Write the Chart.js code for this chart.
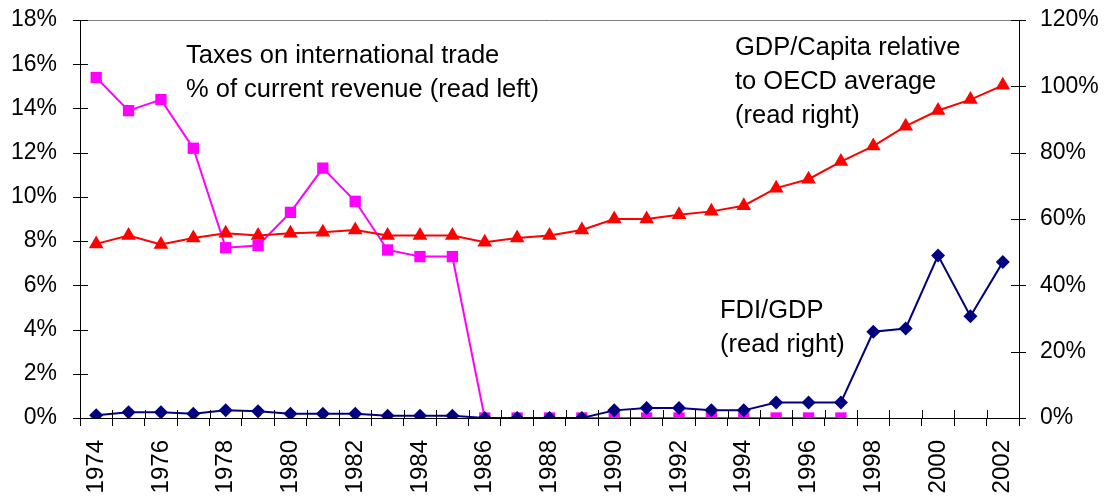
<!DOCTYPE html>
<html>
<head>
<meta charset="utf-8">
<script src="https://cdn.jsdelivr.net/npm/chart.js@4/dist/chart.umd.min.js"></script>
<style>
  html, body { margin: 0; padding: 0; background: #fff; }
  #wrap { width: 1112px; height: 502px; }
</style>
</head>
<body>
<div id="wrap"><canvas id="graph1"></canvas></div>
<script>
var years = ['1974','1975','1976','1977','1978','1979','1980','1981','1982','1983','1984','1985','1986','1987',
  '1988','1989','1990','1991','1992','1993','1994','1995','1996','1997','1998','1999','2000','2001','2002'];

// % of current revenue, left axis
var taxes = [15.4, 13.9, 14.4, 12.2, 7.7, 7.8, 9.3, 11.3, 9.8, 7.6, 7.3, 7.3, 0, 0,
  0, 0, 0, 0, 0, 0, 0, 0, 0, 0, null, null, null, null, null];

// right axis
var gdpCapita = [52.5, 55, 52.3, 54.3, 55.7, 55, 55.7, 56, 56.7, 55, 55, 55, 53, 54.3,
  55, 56.7, 60, 60, 61.3, 62.3, 64, 69.3, 72, 77.3, 82, 88, 92.7, 96, 100.3];

var fdiGdp = [0.8, 1.7, 1.7, 1.3, 2.3, 2, 1.3, 1.3, 1.3, 0.7, 0.7, 0.7, 0, 0,
  0, 0, 2.3, 3, 3, 2.3, 2.3, 4.7, 4.7, 4.7, 26, 27, 49, 30.7, 47];

var notes = [
  { lines: ['Taxes on international trade', '% of current revenue (read left)'], x: 186, y: 56 },
  { lines: ['GDP/Capita relative', 'to OECD average', '(read right)'], x: 735, y: 48 },
  { lines: ['FDI/GDP', '(read right)'], x: 720, y: 311 }
];

var FONT = 'Liberation Sans, Arial, sans-serif';
var TICK = 8;

// axis ticks that cross the axis line, plus the grey top border and the notes
var chartExtras = {
  id: 'chartExtras',
  afterDraw: function(chart) {
    var ctx = chart.ctx;
    var a = chart.chartArea;
    ctx.save();
    ctx.strokeStyle = '#808080';
    ctx.lineWidth = 1;
    ctx.beginPath();
    ctx.moveTo(a.left, a.top + 0.5);
    ctx.lineTo(a.right, a.top + 0.5);
    ctx.stroke();

    ctx.strokeStyle = '#000';
    ctx.beginPath();
    var yl = chart.scales.y, yr = chart.scales.y1;
    yl.ticks.forEach(function(t) {
      var py = Math.round(yl.getPixelForValue(t.value)) + 0.5;
      ctx.moveTo(a.left - 7, py); ctx.lineTo(a.left + TICK, py);
    });
    yr.ticks.forEach(function(t) {
      var py = Math.round(yr.getPixelForValue(t.value)) + 0.5;
      ctx.moveTo(a.right + 7, py); ctx.lineTo(a.right - TICK, py);
    });
    var step = (a.right - a.left) / years.length;
    for (var i = 0; i <= years.length; i++) {
      var px = Math.round(a.left + i * step) + 0.5;
      ctx.moveTo(px, a.bottom); ctx.lineTo(px, a.bottom - TICK);
    }
    ctx.stroke();

    ctx.fillStyle = '#000';
    ctx.font = '25.5px ' + FONT;
    ctx.textAlign = 'left';
    ctx.textBaseline = 'middle';
    notes.forEach(function(n) {
      n.lines.forEach(function(s, k) {
        ctx.fillText(s, n.x, n.y + k * 34);
      });
    });
    ctx.restore();
  }
};

var ctx = document.getElementById('graph1').getContext('2d');

var data = {
  labels: years,
  datasets: [{
    label: 'Taxes on international trade',
    data: taxes,
    yAxisID: 'y',
    borderColor: '#FF00FF',
    backgroundColor: '#FF00FF',
    borderWidth: 2,
    pointStyle: 'rect',
    pointRadius: 8,
    pointBorderWidth: 0,
    order: 2
  }, {
    label: 'GDP/Capita relative to OECD average',
    data: gdpCapita,
    yAxisID: 'y1',
    borderColor: '#FF0000',
    backgroundColor: '#FF0000',
    borderWidth: 2,
    pointStyle: 'triangle',
    pointRadius: 8.5,
    pointBorderWidth: 0,
    order: 1
  }, {
    label: 'FDI/GDP',
    data: fdiGdp,
    yAxisID: 'y1',
    borderColor: '#000080',
    backgroundColor: '#000080',
    borderWidth: 2,
    pointStyle: 'rectRot',
    pointRadius: 7,
    pointBorderWidth: 0,
    order: 0
  }]
};

var graph1 = new Chart(ctx, {
  type: 'line',
  data: data,
  plugins: [chartExtras],
  options: {
    maintainAspectRatio: false,
    responsive: true,
    animation: false,
    layout: { padding: { top: 20, left: 0, right: 0, bottom: 0 } },
    plugins: {
      legend: { display: false },
      tooltip: { enabled: false }
    },
    scales: {
      x: {
        offset: true,
        grid: { offset: true, drawOnChartArea: false, color: '#000', tickLength: TICK },
        border: { color: '#000', width: 1 },
        ticks: {
          autoSkip: false,
          maxRotation: 90,
          minRotation: 90,
          padding: 14,
          color: '#000',
          font: { family: FONT, size: 24 },
          callback: function(v, i) { return i % 2 == 0 ? years[i] : ''; }
        },
        afterFit: function(s) { s.height = 84; }
      },
      y: {
        position: 'left',
        min: 0,
        max: 18,
        // tick marks are drawn by chartExtras, tickLength only keeps the labels clear of them
        grid: { display: false, drawTicks: true, tickLength: 23 },
        border: { display: true, color: '#000', width: 1 },
        ticks: {
          stepSize: 2,
          padding: 0,
          color: '#000',
          font: { family: FONT, size: 23 },
          callback: function(v) { return v + '%'; }
        },
        afterFit: function(s) { s.width = 80; }
      },
      y1: {
        position: 'right',
        min: 0,
        max: 120,
        grid: { display: false, drawTicks: true, tickLength: 21 },
        border: { display: true, color: '#000', width: 1 },
        ticks: {
          stepSize: 20,
          padding: 0,
          color: '#000',
          font: { family: FONT, size: 23 },
          callback: function(v) { return v + '%'; }
        },
        afterFit: function(s) { s.width = 93; }
      }
    }
  }
});
</script>
</body>
</html>
